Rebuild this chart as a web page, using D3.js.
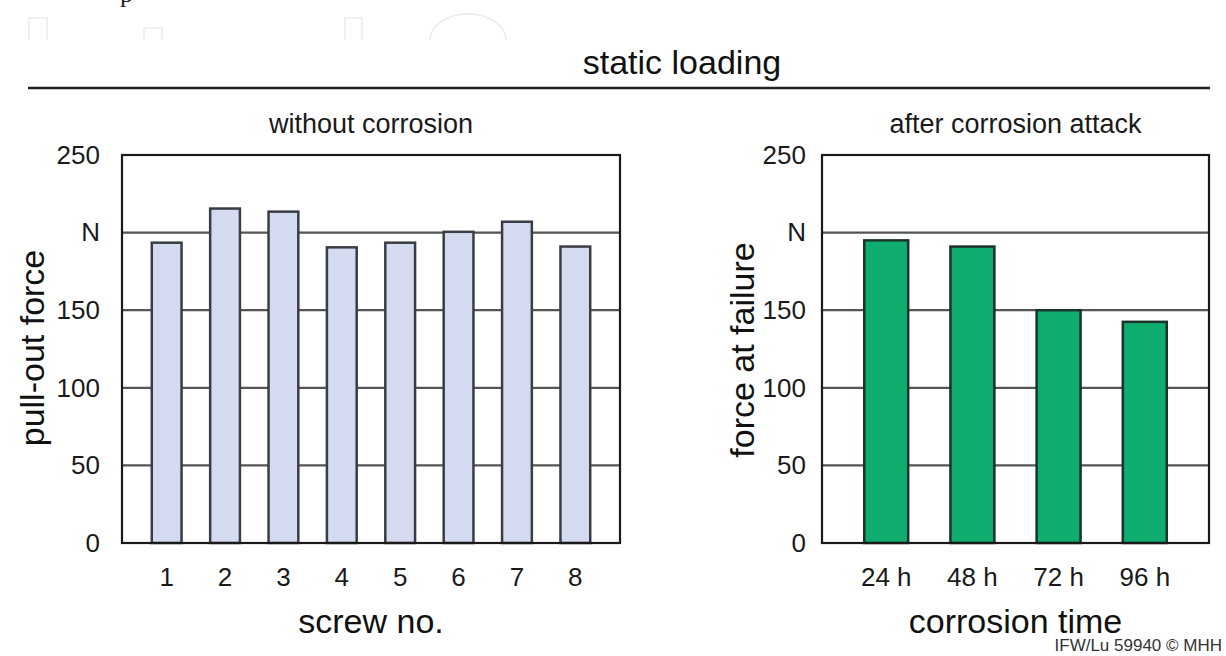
<!DOCTYPE html>
<html>
<head>
<meta charset="utf-8">
<script src="https://cdn.jsdelivr.net/npm/d3@7"></script>
<style>
  body { margin: 0; background: #fff; }
  svg { display: block; font-family: "Liberation Sans", Arial, sans-serif; }
</style>
</head>
<body>
<svg width="1226" height="656"></svg>
<script>
// data
let screws = ['1', '2', '3', '4', '5', '6', '7', '8'];
let pullOut = [193.5, 215.5, 213.5, 190.5, 193.5, 200.5, 207, 191];

let times = ['24 h', '48 h', '72 h', '96 h'];
let failForce = [195, 191, 150, 142.5];

let yTicks = [0, 50, 100, 150, 200, 250];
let yTickLabels = ['0', '50', '100', '150', 'N', '250'];

let svg = d3.select('svg');

// faint scan artefacts at the top
let deco = svg.append('g').attr('fill', 'none').attr('stroke', '#ebebeb').attr('stroke-width', 1.5);
deco.append('path').attr('d', 'M29,40 V18 H47 V40');
deco.append('path').attr('d', 'M144,40 V28 H162 V40');
deco.append('path').attr('d', 'M345,40 V18 H362 V40');
deco.append('path').attr('d', 'M430,40 A38,26 0 0 1 506,40');
svg.append('text').attr('x', 120).attr('y', 2)
  .attr('font-family', 'Liberation Serif, serif').attr('font-size', 26).attr('fill', '#222').text('p');

// headline
svg.append('text')
  .attr('x', 682).attr('y', 74)
  .attr('text-anchor', 'middle')
  .attr('font-size', 34).attr('fill', '#111')
  .text('static loading');

svg.append('line')
  .attr('x1', 28).attr('x2', 1210).attr('y1', 88).attr('y2', 88)
  .attr('stroke', '#222').attr('stroke-width', 2.5);

// the common y scale
let yScale = d3.scaleLinear().domain([0, 250]).range([543, 155]);

function panel(opts) {
  let xScale = d3.scaleBand()
    .domain(opts.cats)
    .range([opts.x0, opts.x1])
    .paddingInner(opts.pi)
    .paddingOuter(opts.po);

  let g = svg.append('g');

  // grid lines
  g.selectAll('.grid')
    .data(yTicks.filter(d => d > 0 && d < 250))
    .enter().append('line')
    .attr('x1', opts.x0).attr('x2', opts.x1)
    .attr('y1', d => yScale(d)).attr('y2', d => yScale(d))
    .attr('stroke', '#555').attr('stroke-width', 2.2);

  // bars
  g.selectAll('.bar')
    .data(opts.vals)
    .enter().append('rect')
    .attr('x', (d, i) => xScale(opts.cats[i]))
    .attr('y', d => yScale(d))
    .attr('width', xScale.bandwidth())
    .attr('height', d => yScale(0) - yScale(d))
    .attr('fill', opts.fill)
    .attr('stroke', opts.stroke)
    .attr('stroke-width', 2.5);

  // frame
  g.append('rect')
    .attr('x', opts.x0).attr('y', yScale(250))
    .attr('width', opts.x1 - opts.x0).attr('height', yScale(0) - yScale(250))
    .attr('fill', 'none').attr('stroke', '#1a1a1a').attr('stroke-width', 2.2);

  // y axis labels
  let yAxis = g.append('g')
    .attr('transform', `translate(${opts.x0},0)`)
    .call(d3.axisLeft(yScale).tickValues(yTicks)
      .tickFormat((d, i) => yTickLabels[i]).tickSize(0).tickPadding(opts.x0 - opts.yLabX));
  yAxis.select('.domain').remove();
  yAxis.selectAll('text').attr('font-size', 26).attr('fill', '#1a1a1a')
    .attr('font-family', '"Liberation Sans", Arial, sans-serif');

  // x axis labels
  let xAxis = g.append('g')
    .attr('transform', `translate(0,${yScale(0)})`)
    .call(d3.axisBottom(xScale).tickSize(0).tickPadding(25));
  xAxis.select('.domain').remove();
  xAxis.selectAll('text').attr('font-size', 26).attr('fill', '#1a1a1a')
    .attr('font-family', '"Liberation Sans", Arial, sans-serif');

  // titles
  let cx = (opts.x0 + opts.x1) / 2;
  g.append('text').attr('x', cx).attr('y', 133)
    .attr('text-anchor', 'middle').attr('font-size', 27).attr('fill', '#1a1a1a')
    .text(opts.subtitle);
  g.append('text').attr('x', cx).attr('y', 633)
    .attr('text-anchor', 'middle').attr('font-size', 34).attr('fill', '#111')
    .text(opts.xTitle);
  g.append('text')
    .attr('transform', `translate(${opts.yTitleX},${opts.yTitleY}) rotate(-90)`)
    .attr('text-anchor', 'middle').attr('font-size', 34).attr('fill', '#111')
    .text(opts.yTitle);
}

panel({
  cats: screws, vals: pullOut,
  x0: 122, x1: 620, pi: 0.49, po: 0.51,
  fill: '#d4daf0', stroke: '#3a3d45',
  yLabX: 100, yTitleX: 44, yTitleY: 348,
  subtitle: 'without corrosion', xTitle: 'screw no.', yTitle: 'pull-out force'
});

panel({
  cats: times, vals: failForce,
  x0: 822, x1: 1209, pi: 0.49, po: 0.49,
  fill: '#10ad70', stroke: '#1b3328',
  yLabX: 806, yTitleX: 754, yTitleY: 350,
  subtitle: 'after corrosion attack', xTitle: 'corrosion time', yTitle: 'force at failure'
});

svg.append('text')
  .attr('x', 1222).attr('y', 651)
  .attr('text-anchor', 'end').attr('font-size', 17).attr('fill', '#333')
  .text('IFW/Lu 59940 \u00a9 MHH');
</script>
</body>
</html>
